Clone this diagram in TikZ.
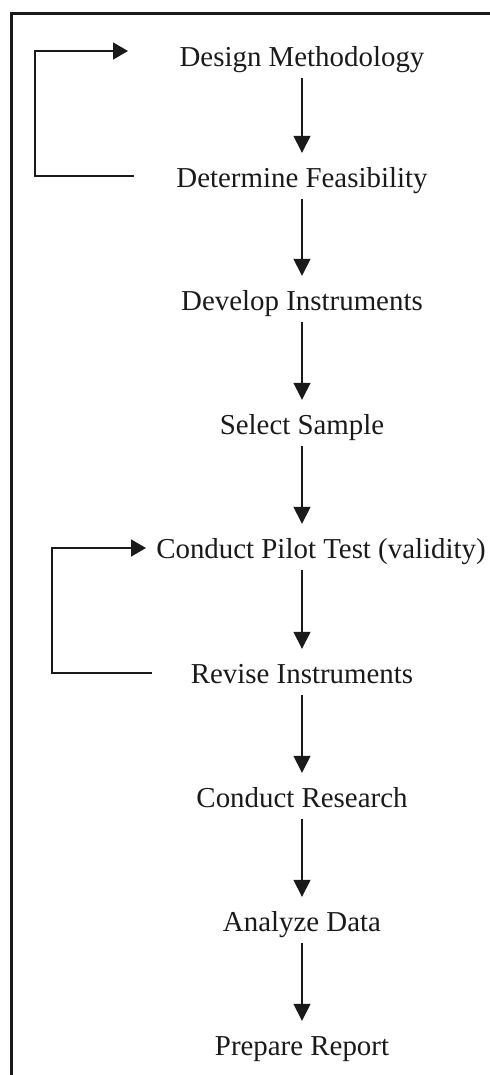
\documentclass[tikz,border=0pt]{standalone}
\usepackage{fontspec}
\setmainfont{Liberation Serif}
\usetikzlibrary{arrows.meta}
\definecolor{ink}{HTML}{1A1A1A}
\begin{document}
\begin{tikzpicture}[x=1bp,y=-1bp,
  stage/.style={font=\fontsize{29}{33}\selectfont, text=ink, inner sep=0pt, text height=19bp, text depth=0bp},
  down/.style={draw=ink, line width=1.5bp, -{Triangle[length=17bp,width=17bp]}, shorten <=11.5bp, shorten >=15.5bp},
  back/.style={draw=ink, line width=1.5bp, -{Triangle[length=15bp,width=17bp]}},
  frame/.style={draw=ink, line width=3bp}]
\useasboundingbox (0,0) rectangle (490,1075);
\clip (0,0) rectangle (490,1075);
\path[frame] (11,13) rectangle (520,1110);
\node[stage] (design) at (302,57) {Design Methodology};
\node[stage] (feas) at (302,178) {Determine Feasibility};
\node[stage] (devel) at (302,301) {Develop Instruments};
\node[stage] (sample) at (302,425) {Select Sample};
\node[stage] (pilot) at (321,549) {Conduct Pilot Test (validity)};
\node[stage] (revise) at (302,674) {Revise Instruments};
\node[stage] (research) at (302,798) {Conduct Research};
\node[stage] (analyze) at (302,922) {Analyze Data};
\node[stage] (report) at (302,1046) {Prepare Report};
\draw[down] (design) -- (feas);
\draw[down] (feas) -- (devel);
\draw[down] (devel) -- (sample);
\draw[down] (sample.south) -- (sample.south |- pilot.north);
\draw[down] (pilot.south -| revise.north) -- (revise.north);
\draw[down] (revise) -- (research);
\draw[down] (research) -- (analyze);
\draw[down] (analyze) -- (report);
\coordinate (l1s) at (134,176);
\coordinate (l1e) at (128,51);
\coordinate (l2s) at (152,673);
\coordinate (l2e) at (146,548);
\draw[back] (l1s) -- ++(-99,0) |- (l1e);
\draw[back] (l2s) -- ++(-100,0) |- (l2e);
\end{tikzpicture}
\end{document}
